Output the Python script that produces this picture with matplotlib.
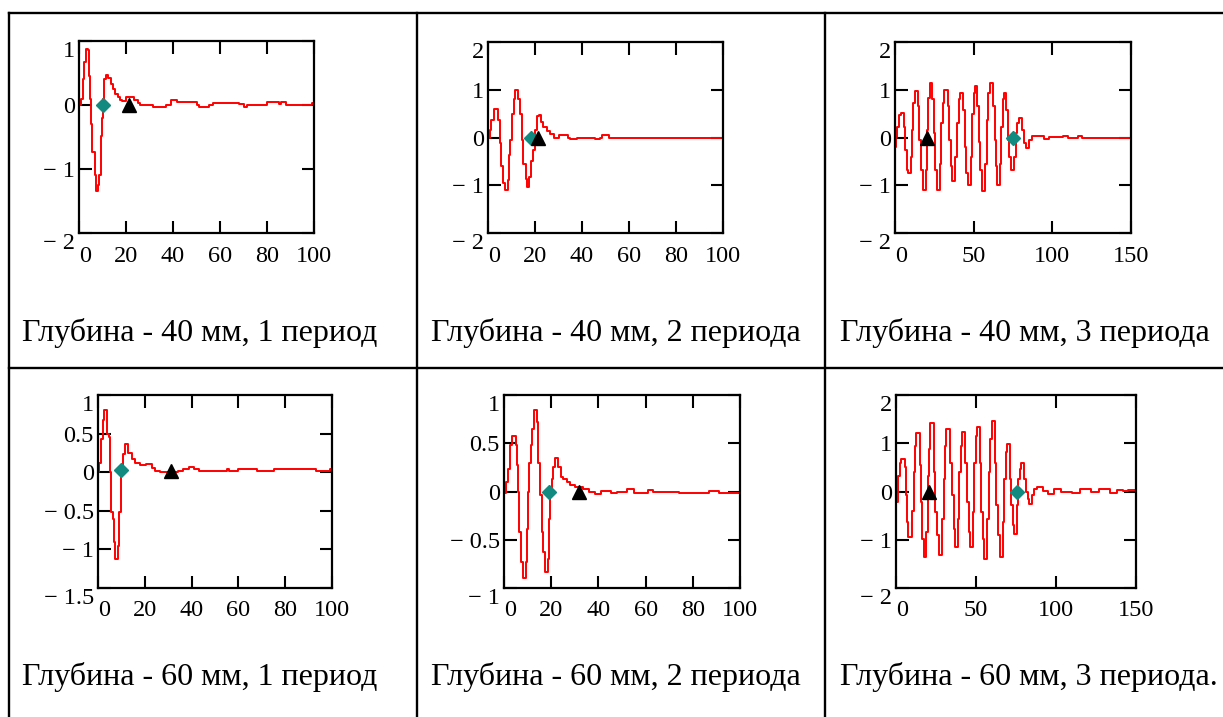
import matplotlib
matplotlib.use("Agg")
import matplotlib.pyplot as plt
from matplotlib.lines import Line2D

plt.rcParams["font.family"] = ["Liberation Serif", "DejaVu Serif"]

W, H = 1223, 717

# ---- data: (x, y) break points of the stepped traces ----
x_40_1 = [0, 1, 1.7, 2.2, 2.8, 4, 4.3, 4.8, 5.2, 5.7, 6.7, 7.2, 8.2, 8.6, 9.3, 9.8, 10.3, 10.8,
          11.5, 12.5, 13.5, 14.5, 15.5, 16.5, 17.5, 18.5, 20, 23.5, 25, 26, 31.5, 37, 39, 41.5,
          50, 51, 55.5, 57, 68, 70, 71.5, 80, 85, 86, 88, 99, 100]
y_40_1 = [0, 0.1, 0.4, 0.67, 0.88, 0.86, 0.46, 0.1, -0.3, -0.74, -1.1, -1.35, -1.25, -1.1, -0.48,
          -0.2, 0.1, 0.4, 0.47, 0.42, 0.33, 0.25, 0.17, 0.12, 0.08, 0.06, 0.12, 0.08, 0.03, 0,
          -0.035, 0, 0.08, 0.04, 0, -0.03, 0, 0.03, 0.015, -0.03, 0, 0.04, 0.01, 0.04, 0, 0.03, 0.03]

x_40_2 = [0, 0.7, 1.4, 2.4, 4.3, 5, 5.4, 6.4, 7.2, 8.4, 8.9, 9.5, 10.2, 10.9, 11.6, 12.9, 13.6,
          14.4, 15.1, 16, 16.7, 17.5, 18.3, 19.3, 20, 20.8, 21.5, 22.5, 23.5, 25, 26.5, 28, 30,
          34, 35, 38, 45.5, 47.5, 48.5, 51.5, 100]
y_40_2 = [0, 0.16, 0.37, 0.6, 0.37, -0.12, -0.6, -0.96, -1.1, -0.9, -0.36, -0.05, 0.5, 0.8, 1.0,
          0.8, 0.5, -0.05, -0.55, -0.86, -1.03, -0.82, -0.5, -0.26, 0.16, 0.44, 0.47, 0.33, 0.23,
          0.13, 0.07, 0, 0.05, 0, -0.035, 0, -0.035, 0, 0.05, 0, 0]

x_40_3 = [0, 0.6, 1.5, 2.8, 3.8, 5.5, 6.4, 7.4, 8.5, 10, 10.8, 11.7, 12.7, 14.6, 15.5, 16.5, 17.6,
          19.5, 20.3, 21.2, 22, 23.7, 24.6, 25.4, 26.5, 28.4, 29.2, 30.3, 31.4, 33.5, 34.3, 35.4,
          36.4, 38.3, 39.4, 40.5, 41.5, 43.4, 44.3, 45.3, 46.4, 48.3, 49.2, 50.2, 51.1, 52.3,
          53.2, 54.2, 55.3, 57.2, 58.3, 59.3, 60.4, 62.5, 63.3, 64.2, 65, 66.5, 67.4, 68.4, 69.3,
          70.8, 71.6, 72.7, 73.7, 75.8, 76.7, 77.8, 78.6, 80.7, 81.8, 83, 85.4, 86.9, 95, 98,
          107, 110, 114, 116, 119, 150]
y_40_3 = [-0.19, 0.02, 0.23, 0.47, 0.52, 0.23, -0.26, -0.68, -0.75, -0.4, 0.16, 0.72, 0.97, 0.65,
          -0.05, -0.68, -1.1, -0.68, 0.16, 0.83, 1.14, 0.8, 0.1, -0.68, -1.1, -0.55, 0.3, 0.72,
          1.0, 0.65, -0.05, -0.6, -0.92, -0.4, 0.3, 0.8, 0.93, 0.58, -0.2, -0.75, -1.0, -0.4,
          0.5, 0.93, 1.07, 0.65, -0.1, -0.68, -1.13, -0.55, 0.37, 0.93, 1.14, 0.65, -0.05, -0.6,
          -1.0, -0.55, 0.23, 0.8, 0.93, 0.58, -0.05, -0.4, -0.68, -0.4, 0.1, 0.3, 0.4, 0.15,
          -0.12, -0.22, -0.05, 0.03, -0.03, 0.02, 0.035, 0, -0.02, 0.03, 0, 0]

x_60_1 = [0, 0.6, 1.4, 2, 2.7, 3.8, 4.6, 5, 5.6, 6.3, 6.7, 7.4, 8.6, 9.1, 9.9, 10.7, 11.5, 13,
          14.5, 16, 18, 20.5, 23, 24.5, 26.7, 34, 36.5, 39, 41, 43, 55, 56, 60, 68, 75, 82, 83,
          93, 96, 98, 99, 100]
y_60_1 = [0, 0.12, 0.43, 0.67, 0.8, 0.5, 0.45, 0, -0.51, -0.6, -0.9, -1.13, -0.95, -0.51, 0, 0.23,
          0.36, 0.25, 0.17, 0.12, 0.09, 0.11, 0.06, 0.02, 0, 0.01, 0.035, 0.066, 0.035, 0.015,
          0.035, 0.015, 0.035, 0.015, 0.035, 0.045, 0.035, 0.015, 0.02, 0.015, 0.04, 0.04]

x_60_2 = [0, 0.7, 1.8, 2.5, 3.2, 5.1, 5.6, 6.1, 6.5, 7.2, 7.9, 9.2, 9.9, 10.3, 10.7, 11.3, 12,
          12.7, 14, 14.6, 15.1, 15.9, 16.6, 17.4, 18.5, 19, 19.5, 20.2, 20.9, 21.6, 23, 24, 25,
          26.5, 28, 30, 33.5, 36, 38.5, 41, 45.5, 48, 52, 55, 61, 63, 74, 87, 91, 100]
y_60_2 = [-0.02, 0.1, 0.23, 0.48, 0.58, 0.48, 0.27, 0, -0.42, -0.73, -0.9, -0.73, -0.39, 0, 0.3,
          0.48, 0.65, 0.84, 0.72, 0.3, -0.04, -0.42, -0.63, -0.83, -0.7, -0.28, 0, 0.13, 0.25,
          0.35, 0.25, 0.15, 0.13, 0.1, 0.07, 0.045, 0.03, 0, -0.025, 0.01, -0.02, -0.005, 0.03,
          -0.015, 0.02, 0, -0.015, 0.01, -0.015, -0.015]

x_60_3 = [0, 1, 2.3, 3.3, 5.4, 6.3, 6.9, 7.5, 10.2, 11, 12, 12.7, 14.8, 15.6, 16.5, 17.3, 19, 19.8,
          20.6, 21.5, 23.5, 24.6, 25.6, 26.7, 28.8, 29.8, 30.8, 31.5, 34, 35, 36, 36.7, 38.5,
          39.6, 40.6, 41.5, 43.3, 44.4, 45.4, 46, 48.1, 49, 49.8, 50.6, 52.3, 53.3, 54.4, 55.2,
          56.9, 57.9, 59, 59.8, 61.9, 62.7, 63.8, 64.8, 66.7, 67.7, 68.8, 69.4, 71.2, 72.1, 72.9,
          73.5, 75.4, 76.5, 77.3, 78.1, 80.2, 81.2, 82.3, 83.3, 85.2, 86.5, 88, 92, 95, 99, 103,
          110, 115, 122, 127, 134, 138, 142, 145, 150]
y_60_3 = [-0.22, 0.33, 0.6, 0.67, 0.5, -0.08, -0.63, -0.95, -0.4, 0.4, 0.95, 1.22, 0.54, -0.22,
          -0.98, -1.36, -0.84, 0.33, 0.88, 1.43, 0.4, -0.43, -0.91, -1.32, -0.57, 0.26, 0.95, 1.3,
          0.6, -0.08, -0.77, -1.15, -0.57, 0.4, 0.95, 1.23, 0.6, -0.22, -0.84, -1.15, -0.43, 0.6,
          1.16, 1.33, 0.6, -0.43, -0.98, -1.4, -0.57, 0.4, 1.09, 1.47, 0.6, -0.29, -0.91, -1.36,
          -0.63, 0.26, 0.81, 0.98, 0.26, -0.29, -0.7, -0.88, -0.29, 0.26, 0.47, 0.6, 0.26, -0.01,
          -0.15, -0.25, -0.08, 0.05, 0.09, 0.02, -0.05, 0.05, 0, -0.03, 0.05, -0.02, 0.05, -0.03,
          0.03, 0.01, 0.03, 0]

# marker positions (diamond, triangle)
diam_x = [10.2, 18.4, 75.2, 10.0, 19.0, 75.6]
diam_y = [0, 0, 0, 0.03, 0, 0]
tri_x = [21.3, 21.3, 20.6, 31.4, 31.8, 20.4]
tri_y = [0, 0, 0, 0.02, 0, 0]

captions = ["Глубина - 40 мм, 1 период", "Глубина - 40 мм, 2 периода",
            "Глубина - 40 мм, 3 периода", "Глубина - 60 мм, 1 период",
            "Глубина - 60 мм, 2 периода", "Глубина - 60 мм, 3 периода."]

xs = [x_40_1, x_40_2, x_40_3, x_60_1, x_60_2, x_60_3]
ys = [y_40_1, y_40_2, y_40_3, y_60_1, y_60_2, y_60_3]
xmax = [100, 100, 150, 100, 100, 150]
xstep = [20, 20, 50, 20, 20, 50]
ylims = [(-2, 1), (-2, 2), (-2, 2), (-1.5, 1), (-1, 1), (-2, 2)]
ysteps = [1, 1, 1, 0.5, 0.5, 1]

# axes boxes in pixels: left, top, right, bottom
boxes = [(79, 41, 314, 233), (488, 42, 723, 233), (895, 42, 1131, 233),
         (98, 395, 332, 588), (504, 395, 740, 588), (896, 395, 1136, 588)]
cap_pos = [(22, 341), (431, 341), (840, 341), (22, 685), (431, 685), (840, 685)]


def ylab(v):
    s = "%g" % abs(v)
    return ("\u2212 " + s) if v < 0 else s


fig = plt.figure(figsize=(W / 100, H / 100), dpi=100)

for i in range(6):
    l, t, r, b = boxes[i]
    ax = fig.add_axes([l / W, 1 - b / H, (r - l) / W, (b - t) / H])
    ax.plot(xs[i], ys[i], color="red", lw=1.4, drawstyle="steps-post", zorder=2)
    ax.plot(diam_x[i], diam_y[i], marker="D", ms=7, color="#138a80", ls="none", zorder=3)
    ax.plot(tri_x[i], tri_y[i], marker="^", ms=9.5, color="black", ls="none", zorder=3)

    lo, hi = ylims[i]
    ax.set_xlim(0, xmax[i])
    ax.set_ylim(lo, hi)
    xt = list(range(0, xmax[i] + 1, xstep[i]))
    ax.set_xticks(xt)
    ax.set_xticklabels([str(v) for v in xt])
    n = int(round((hi - lo) / ysteps[i]))
    yt = [lo + k * ysteps[i] for k in range(n + 1)]
    ax.set_yticks(yt)
    ax.set_yticklabels([ylab(v) for v in yt])

    ax.tick_params(direction="in", length=9, width=1.5, top=True, right=True,
                   labelsize=17.5, colors="black")
    ax.tick_params(axis="x", pad=9)
    ax.tick_params(axis="y", pad=3)
    for sp in ax.spines.values():
        sp.set_linewidth(1.6)
    ylbls = ax.get_yticklabels()
    ylbls[-1].set_verticalalignment("top")
    ylbls[0].set_verticalalignment("top")
    ax.get_xticklabels()[0].set_horizontalalignment("left")

    cx, cy = cap_pos[i]
    fig.text(cx / W, 1 - cy / H, captions[i], fontsize=23, va="baseline", ha="left")

# table grid lines
def hline(y, x0, x1):
    fig.add_artist(Line2D([x0 / W, x1 / W], [1 - y / H, 1 - y / H], color="black", lw=1.7,
                          transform=fig.transFigure))

def vline(x, y0, y1):
    fig.add_artist(Line2D([x / W, x / W], [1 - y0 / H, 1 - y1 / H], color="black", lw=1.7,
                          transform=fig.transFigure))

hline(12.7, 9, 1223)
hline(367.7, 9, 1223)
vline(9, 12.7, 717)
vline(417, 12.7, 717)
vline(825, 12.7, 717)

fig.savefig("out.png", dpi=100)
